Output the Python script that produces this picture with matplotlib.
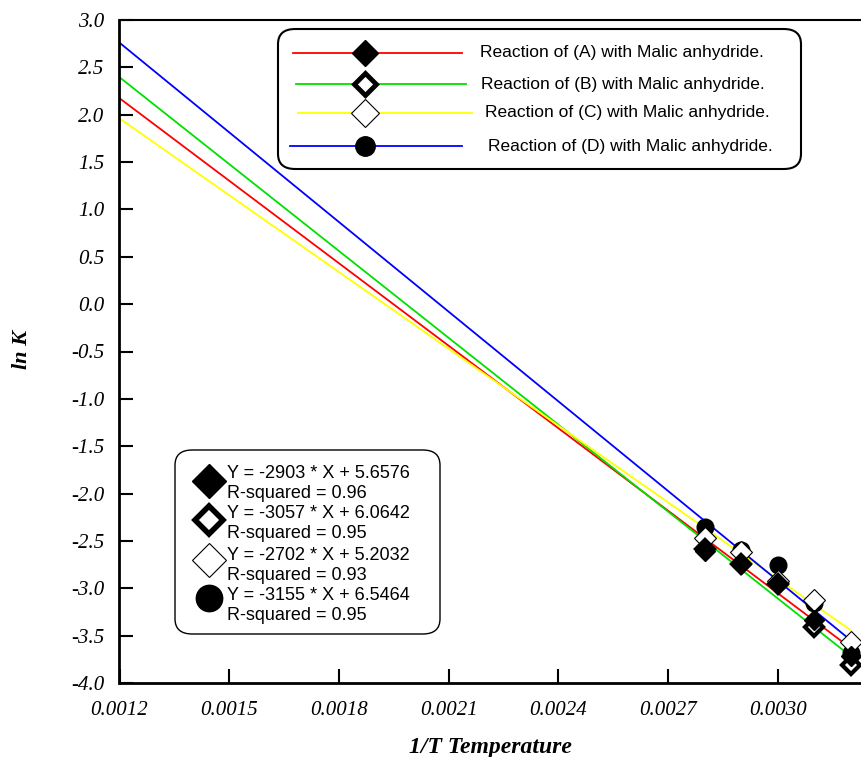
import matplotlib
matplotlib.use("Agg")
import matplotlib.pyplot as plt
from matplotlib.patches import FancyBboxPatch
from matplotlib.lines import Line2D
import numpy as np

# ---------------- data ----------------
inv_T = [0.0028, 0.0029, 0.0030, 0.0031, 0.0032]
lnK_A = [-2.61, -2.74, -2.95, -3.34, -3.72]
lnK_B = [-2.58, -2.74, -2.96, -3.41, -3.81]
lnK_C = [-2.47, -2.62, -2.92, -3.12, -3.57]
lnK_D = [-2.35, -2.60, -2.75, -3.16, -3.68]

slopes = [-2903, -3057, -2702, -3155]
intercepts = [5.6576, 6.0642, 5.2032, 6.5464]
r_squared = [0.96, 0.95, 0.93, 0.95]
series_names = ["(A)", "(B)", "(C)", "(D)"]
line_colors = ["#ff0000", "#00e000", "#ffff00", "#0000ff"]
fit_range = [0.0012, 0.0032]

x_ticks = [0.0012, 0.0015, 0.0018, 0.0021, 0.0024, 0.0027, 0.0030]
y_ticks = [3.0, 2.5, 2.0, 1.5, 1.0, 0.5, 0.0, -0.5, -1.0, -1.5, -2.0, -2.5, -3.0, -3.5, -4.0]

# ---------------- figure ----------------
W, H = 862, 757
fig = plt.figure(figsize=(W / 100, H / 100), dpi=100)
ax = fig.add_axes([119.5 / W, (H - 683) / H, (W - 119.5) / W, (683 - 20) / H])

px_per_x = 109.7 / 0.0003
ax.set_xlim(0.0012, 0.0012 + (W - 119.5) / px_per_x)
ax.set_ylim(-4.0, 3.0)

marker_styles = [
    dict(marker="D", ms=10, mfc="black", mec="black", mew=1),
    dict(marker="D", ms=9, mfc="white", mec="black", mew=3),
    dict(marker="D", ms=11, mfc="white", mec="black", mew=0.8),
    dict(marker="o", ms=12, mfc="black", mec="black", mew=1),
]

all_lnK = [lnK_A, lnK_B, lnK_C, lnK_D]
xf = np.array(fit_range)
for m, b, c in zip(slopes, intercepts, line_colors):
    ax.plot(xf, m * xf + b, color=c, lw=1.3, zorder=2)

for i in [3, 2, 1, 0]:
    ax.plot(inv_T, all_lnK[i], ls="none", zorder=3, **marker_styles[i])

# spines & ticks
ax.spines["right"].set_visible(False)
for s in ["left", "bottom"]:
    ax.spines[s].set_linewidth(2.0)
ax.spines["top"].set_linewidth(1.5)
ax.set_xticks(x_ticks)
ax.set_yticks(y_ticks)
ax.set_xticklabels([f"{v:.4f}" for v in x_ticks])
ax.set_yticklabels([f"{v:.1f}" for v in y_ticks])
ax.tick_params(axis="both", direction="in", length=10, width=1.5, top=False, right=False)
ax.tick_params(axis="x", pad=13)
ax.tick_params(axis="y", pad=11)
for lab in ax.get_xticklabels() + ax.get_yticklabels():
    lab.set_fontfamily("Liberation Serif")
    lab.set_fontstyle("italic")
    lab.set_fontsize(15)

ax.set_xlabel("1/T Temperature", fontfamily="Liberation Serif", fontstyle="italic",
              fontweight="bold", fontsize=17, labelpad=12)
fig.text(22 / W, 1 - 350 / H, "ln K", rotation=90, ha="center", va="center",
         fontfamily="Liberation Serif", fontstyle="italic", fontweight="bold", fontsize=16)

def fx(px):
    return px / W

def fy(py):
    return 1 - py / H

# ---------------- top legend (manual) ----------------
box = FancyBboxPatch((fx(278), fy(169)), fx(801) - fx(278), fy(29) - fy(169),
                     boxstyle="round,pad=0,rounding_size=0.02", transform=fig.transFigure,
                     fc="white", ec="black", lw=1.5, zorder=5)
fig.add_artist(box)
rows_y = [53, 84, 113, 146]
line_x = [(293, 462), (296, 466), (298, 472), (290, 462)]
text_x = [480, 481, 485, 488]
leg_styles = [
    dict(marker="D", ms=13, mfc="black", mec="black", mew=1),
    dict(marker="D", ms=11, mfc="white", mec="black", mew=3.5),
    dict(marker="D", ms=14, mfc="white", mec="black", mew=0.8),
    dict(marker="o", ms=14, mfc="black", mec="black", mew=1),
]
for i in range(4):
    x0, x1 = line_x[i]
    fig.add_artist(Line2D([fx(x0), fx(x1)], [fy(rows_y[i])] * 2, color=line_colors[i],
                          lw=1.3, transform=fig.transFigure, zorder=6))
    fig.add_artist(Line2D([fx(365)], [fy(rows_y[i])], ls="none", transform=fig.transFigure,
                          zorder=7, **leg_styles[i]))
    fig.text(fx(text_x[i]), fy(rows_y[i]), f"Reaction of {series_names[i]} with Malic anhydride.",
             ha="left", va="center", fontfamily="Liberation Sans", fontsize=12.5, zorder=8)

# ---------------- bottom legend (manual) ----------------
box2 = FancyBboxPatch((fx(175), fy(634)), fx(440) - fx(175), fy(450) - fy(634),
                      boxstyle="round,pad=0,rounding_size=0.02", transform=fig.transFigure,
                      fc="white", ec="black", lw=1.0, zorder=5)
fig.add_artist(box2)
eq_y = [474, 514, 555, 595]
mk_y = [481, 520, 560, 598]
big_styles = [
    dict(marker="D", ms=17, mfc="black", mec="black", mew=1),
    dict(marker="D", ms=14, mfc="white", mec="black", mew=4),
    dict(marker="D", ms=17, mfc="white", mec="black", mew=0.8),
    dict(marker="o", ms=19, mfc="black", mec="black", mew=1),
]
for i in range(4):
    fig.add_artist(Line2D([fx(209)], [fy(mk_y[i])], ls="none", transform=fig.transFigure,
                          zorder=7, **big_styles[i]))
    fig.text(fx(227), fy(eq_y[i]), f"Y = {slopes[i]} * X + {intercepts[i]:.4f}",
             ha="left", va="center", fontfamily="Liberation Sans", fontsize=13, zorder=8)
    fig.text(fx(227), fy(eq_y[i] + 20), f"R-squared = {r_squared[i]:.2f}",
             ha="left", va="center", fontfamily="Liberation Sans", fontsize=13, zorder=8)

fig.savefig("out.png", dpi=100)
